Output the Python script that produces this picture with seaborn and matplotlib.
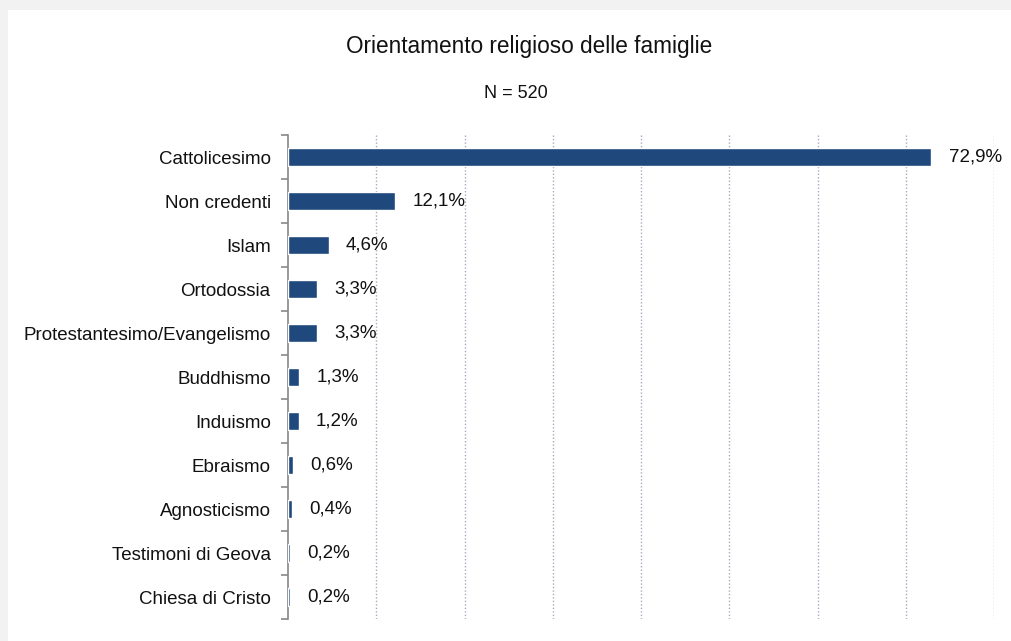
import matplotlib
matplotlib.use("Agg")
import matplotlib.pyplot as plt
import matplotlib.patches as mpatches
from matplotlib.ticker import FixedLocator, NullFormatter
import seaborn as sns
import pandas as pd

categories = [
    "Cattolicesimo", "Non credenti", "Islam", "Ortodossia",
    "Protestantesimo/Evangelismo", "Buddhismo", "Induismo", "Ebraismo",
    "Agnosticismo", "Testimoni di Geova", "Chiesa di Cristo",
]
percent = [72.9, 12.1, 4.6, 3.3, 3.3, 1.3, 1.2, 0.6, 0.4, 0.2, 0.2]
value_labels = ["72,9%", "12,1%", "4,6%", "3,3%", "3,3%", "1,3%", "1,2%",
                "0,6%", "0,4%", "0,2%", "0,2%"]
title = "Orientamento religioso delle famiglie"
subtitle = "N = 520"

sns.set_theme(style="white")
plt.rcParams["font.family"] = ["Liberation Sans", "DejaVu Sans"]

df = pd.DataFrame({"categoria": categories, "percentuale": percent})

fig = plt.figure(figsize=(10.11, 6.41), dpi=100)
fig.patch.set_facecolor("#f2f2f2")
# white chart panel
fig.add_artist(mpatches.Rectangle((8 / 1011, 0), 1, 1 - 10 / 641,
                                  transform=fig.transFigure,
                                  facecolor="white", edgecolor="none", zorder=0))

ax = fig.add_axes([288 / 1011, 1 - 619 / 641, 706 / 1011, 484 / 641])
ax.set_facecolor("none")

sns.barplot(data=df, y="categoria", x="percentuale", orient="h",
            color="#1f497d", width=0.4, saturation=1, ax=ax, zorder=3)

ax.set_xlim(0, 80)
ax.set_ylim(len(categories) - 0.5, -0.5)
ax.set_xlabel("")
ax.set_ylabel("")

# dotted vertical gridlines
for gx in range(10, 81, 10):
    ax.axvline(gx, color="#a5abbd", linestyle=(0, (1, 1.5)), linewidth=1, zorder=1)

ax.set_xticks([])
ax.tick_params(axis="y", which="major", left=True, length=0, pad=12.5,
               labelsize=13.5)
ax.yaxis.set_minor_locator(FixedLocator([i - 0.5 for i in range(len(categories) + 1)]))
ax.yaxis.set_minor_formatter(NullFormatter())
ax.tick_params(axis="y", which="minor", left=True, length=5, width=1.2,
               color="#888888", direction="out")
for lbl in ax.get_yticklabels():
    lbl.set_color("#111111")

for side in ("top", "right", "bottom"):
    ax.spines[side].set_visible(False)
ax.spines["left"].set_color("#888888")
ax.spines["left"].set_linewidth(1.2)

for i, (v, t) in enumerate(zip(percent, value_labels)):
    ax.annotate(t, xy=(v, i), xytext=(12.5, 0), textcoords="offset points",
                va="center", ha="left", fontsize=13.5, color="#111111")

fig.text(529.5 / 1011, 1 - 47 / 641, title, ha="center", va="center",
         fontsize=16.3, color="#111111")
fig.text(515.5 / 1011, 1 - 93 / 641, subtitle, ha="center", va="center",
         fontsize=13, color="#111111")

fig.savefig("out.png", dpi=100, facecolor=fig.get_facecolor())
